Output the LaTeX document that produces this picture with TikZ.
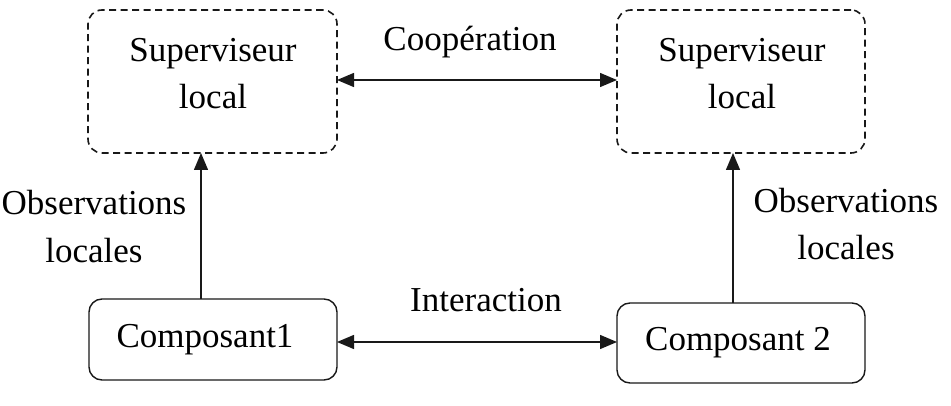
\documentclass[tikz,border=0pt]{standalone}
\usepackage{fontspec}
\setmainfont{Liberation Serif}
\usetikzlibrary{arrows.meta}
\begin{document}
\begin{tikzpicture}[x=1pt,y=-1pt,
  every node/.style={inner sep=0pt,outer sep=0pt},
  txt/.style={font=\fontsize{35}{47}\selectfont,anchor=base},
  supbox/.style={draw=black!90,line width=1.6pt,dash pattern=on 7pt off 4.5pt,rounded corners=14pt},
  compbox/.style={draw=black!90,line width=1.4pt,rounded corners=13pt},
  link/.style={draw=black!90,line width=1.4pt,{Triangle[length=17pt,width=14pt]}-{Triangle[length=17pt,width=14pt]}},
  up/.style={draw=black!90,line width=1.4pt,-{Triangle[length=17pt,width=14pt]}}]
\useasboundingbox (0,0) rectangle (951,406);
% boxes
\node[supbox,minimum width=249pt,minimum height=143pt] (sl1) at (212.5,81.5) {};
\node[supbox,minimum width=248pt,minimum height=143pt] (sl2) at (741,81.5) {};
\node[compbox,minimum width=248pt,minimum height=81pt] (c1) at (213,339.5) {};
\node[compbox,minimum width=248pt,minimum height=80pt] (c2) at (741,343) {};
% box texts
\node[txt] (sl1a) at (213,62) {Superviseur};
\node[txt] (sl1b) at (213,109) {local};
\node[txt] (sl2a) at (742,62) {Superviseur};
\node[txt] (sl2b) at (742,109) {local};
\node[txt] (c1t) at (205,347) {Composant1};
\node[txt] (c2t) at (738,350) {Composant 2};
% connector labels
\node[txt] (coop) at (470,51) {Coopération};
\node[txt] (inter) at (486,312) {Interaction};
\node[txt] (obl1) at (94,215) {Observations};
\node[txt] (obl2) at (94,262) {locales};
\node[txt] (obr1) at (846,213) {Observations};
\node[txt] (obr2) at (846,260) {locales};
% connectors
\coordinate (ia) at (0,342);
\coordinate (ca) at (0,80);
\coordinate (vl) at (201,0);
\coordinate (vr) at (733,0);
\draw[link] (sl1.east |- ca) -- (sl2.west |- ca);
\draw[link] (c1.east |- ia) -- (c2.west |- ia);
\draw[up] (c1.north -| vl) -- (sl1.south -| vl);
\draw[up] (c2.north -| vr) -- (sl2.south -| vr);
\end{tikzpicture}
\end{document}
